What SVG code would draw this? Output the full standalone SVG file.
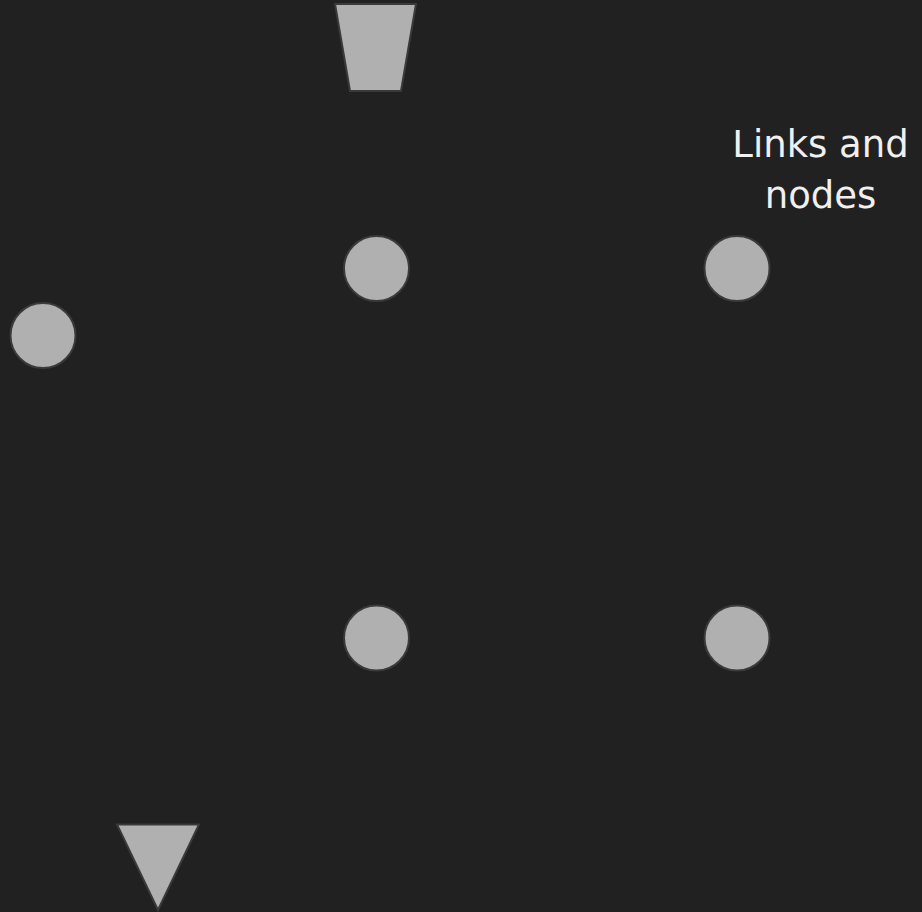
<svg xmlns="http://www.w3.org/2000/svg" width="922" height="912" viewBox="0 0 922 912">
<style>
.n{fill:#b0b0b0;stroke:#3a3a3a;stroke-width:2}
.t{font-family:"DejaVu Sans",Verdana,sans-serif;font-size:37px;fill:#f0f0f0;text-anchor:middle}
</style>
<rect width="922" height="912" fill="#212121"/>
<g id="connectors"></g>
<g id="trapezoid"><polygon class="n" points="335,4 416,4 401,91 350,91"/></g>
<g id="c1"><circle class="n" cx="376.5" cy="268.5" r="32.5"/></g>
<g id="c2"><circle class="n" cx="737" cy="268.5" r="32.5"/></g>
<g id="c3"><circle class="n" cx="43" cy="335.5" r="32.5"/></g>
<g id="c4"><circle class="n" cx="376.5" cy="638" r="32.5"/></g>
<g id="c5"><circle class="n" cx="737" cy="638" r="32.5"/></g>
<g id="triangle"><polygon class="n" points="117,824.5 199,824.5 158,910"/></g>
<g id="label"><text class="t" x="820.5" y="157">Links and</text><text class="t" x="820.5" y="208">nodes</text></g>
</svg>
